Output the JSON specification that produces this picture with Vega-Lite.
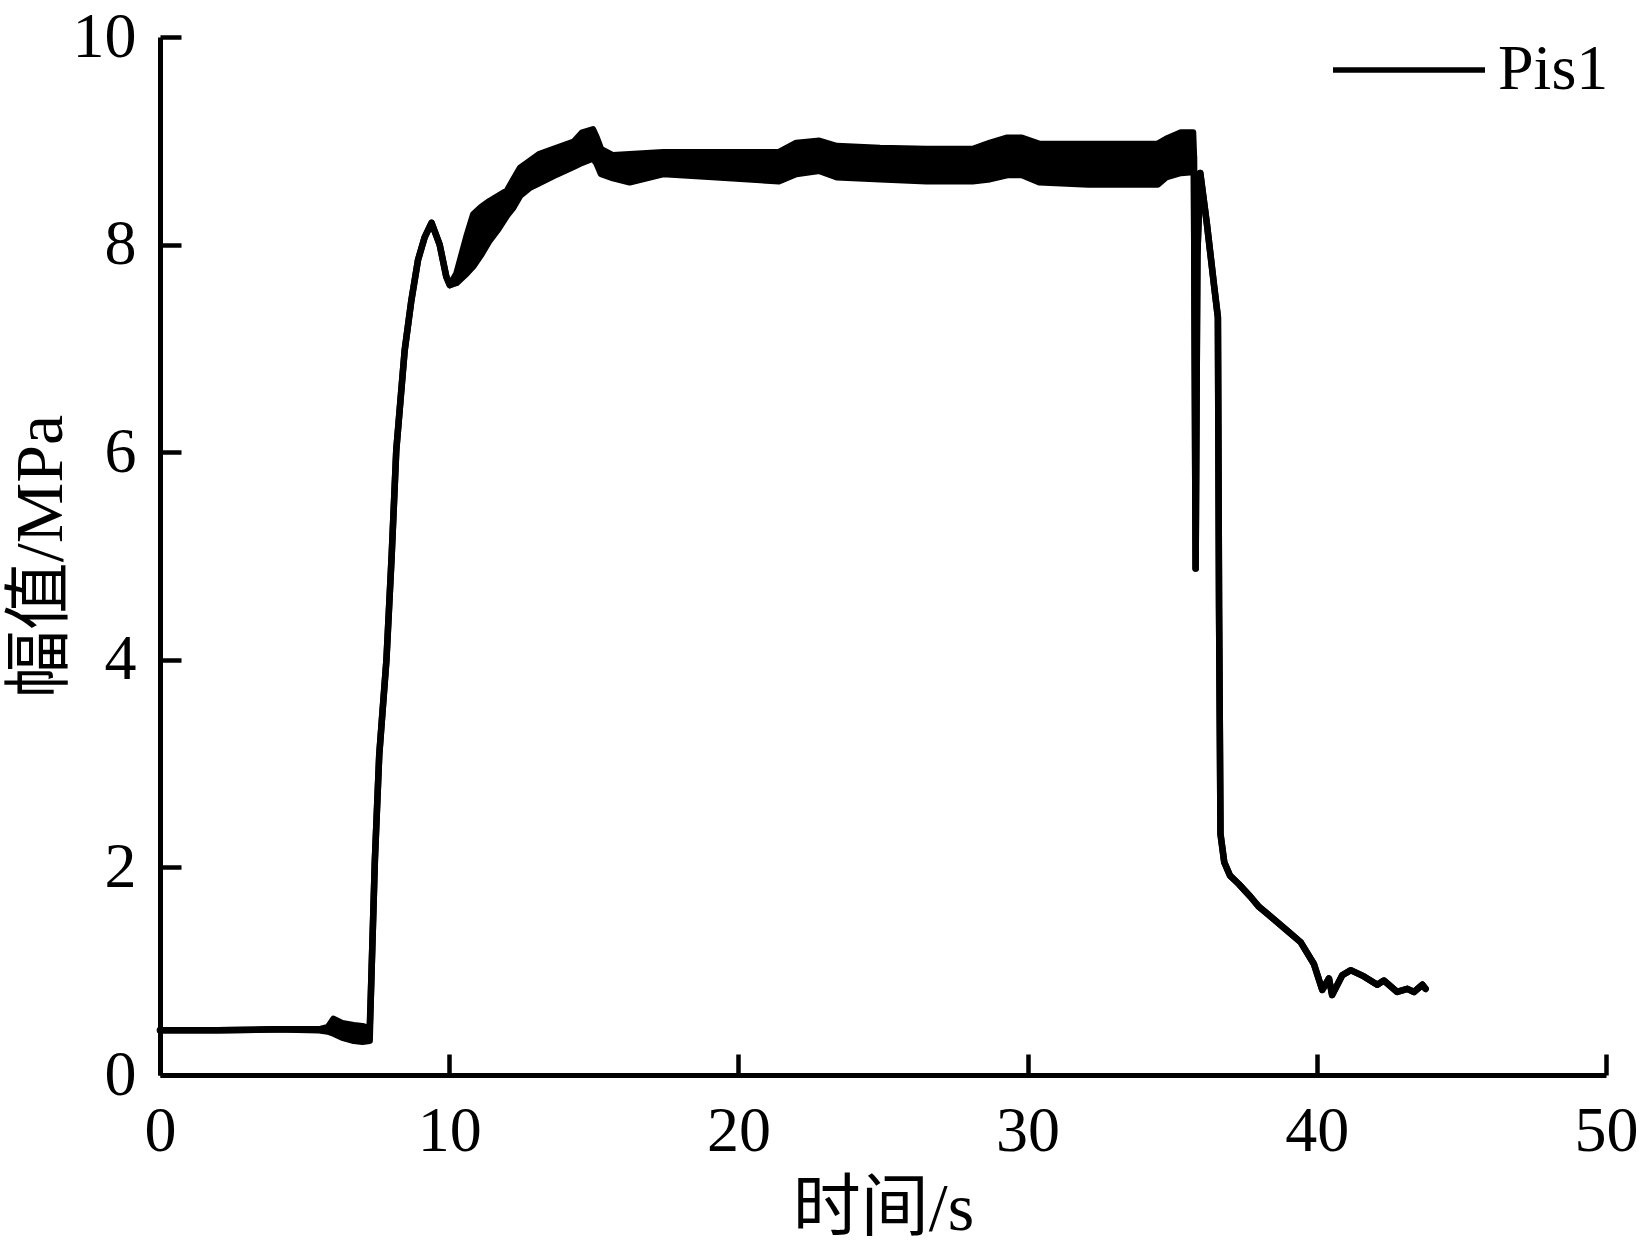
{
  "$schema": "https://vega.github.io/schema/vega-lite/v6.json",
  "autosize": "none",
  "padding": {"left": 160, "top": 37, "right": 37, "bottom": 169},
  "width": 1446,
  "height": 1038,
  "background": "white",
  "config": {
    "view": {"stroke": null},
    "font": "Liberation Serif",
    "axis": {
      "grid": false,
      "domainColor": "black",
      "domainWidth": 5,
      "tickColor": "black",
      "tickWidth": 4.5,
      "tickSize": -21,
      "labelFont": "Liberation Serif",
      "labelFontSize": 64,
      "labelColor": "black",
      "format": "d",
      "titleFont": "Liberation Serif, Noto Sans CJK SC",
      "titleFontSize": 68,
      "titleFontWeight": "normal",
      "titleColor": "black"
    }
  },
  "data": {
    "values": [
      {"t": 0, "lo": 0.43, "hi": 0.43},
      {"t": 2, "lo": 0.43, "hi": 0.43},
      {"t": 4, "lo": 0.44, "hi": 0.44},
      {"t": 5.5, "lo": 0.43, "hi": 0.44},
      {"t": 5.8, "lo": 0.42, "hi": 0.46},
      {"t": 6.0, "lo": 0.40, "hi": 0.54},
      {"t": 6.3, "lo": 0.36, "hi": 0.50},
      {"t": 6.7, "lo": 0.33, "hi": 0.48},
      {"t": 7.0, "lo": 0.32, "hi": 0.47},
      {"t": 7.25, "lo": 0.33, "hi": 0.45},
      {"t": 7.29, "lo": 0.76, "hi": 0.76},
      {"t": 7.43, "lo": 2.07, "hi": 2.07},
      {"t": 7.58, "lo": 3.08, "hi": 3.08},
      {"t": 7.83, "lo": 4.0, "hi": 4.0},
      {"t": 8.01, "lo": 5.0, "hi": 5.0},
      {"t": 8.17, "lo": 6.02, "hi": 6.02},
      {"t": 8.46, "lo": 6.98, "hi": 6.98},
      {"t": 8.69, "lo": 7.46, "hi": 7.46},
      {"t": 8.92, "lo": 7.85, "hi": 7.85},
      {"t": 9.15, "lo": 8.07, "hi": 8.07},
      {"t": 9.39, "lo": 8.21, "hi": 8.21},
      {"t": 9.67, "lo": 8.0, "hi": 8.0},
      {"t": 9.9, "lo": 7.69, "hi": 7.69},
      {"t": 10.02, "lo": 7.61, "hi": 7.61},
      {"t": 10.25, "lo": 7.63, "hi": 7.72},
      {"t": 10.6, "lo": 7.72, "hi": 8.08},
      {"t": 10.83, "lo": 7.79, "hi": 8.29},
      {"t": 11.1, "lo": 7.9, "hi": 8.36},
      {"t": 11.4, "lo": 8.04, "hi": 8.42},
      {"t": 11.7, "lo": 8.15, "hi": 8.47},
      {"t": 12.0, "lo": 8.28, "hi": 8.52},
      {"t": 12.2, "lo": 8.35, "hi": 8.62},
      {"t": 12.45, "lo": 8.47, "hi": 8.74},
      {"t": 12.8, "lo": 8.55, "hi": 8.81},
      {"t": 13.1, "lo": 8.59, "hi": 8.87},
      {"t": 13.6, "lo": 8.66, "hi": 8.92},
      {"t": 14.3, "lo": 8.75, "hi": 8.99},
      {"t": 14.6, "lo": 8.79, "hi": 9.08},
      {"t": 14.97, "lo": 8.83, "hi": 9.11},
      {"t": 15.1, "lo": 8.78, "hi": 9.03},
      {"t": 15.25, "lo": 8.68, "hi": 8.92},
      {"t": 15.66, "lo": 8.64, "hi": 8.86},
      {"t": 16.24, "lo": 8.6, "hi": 8.87},
      {"t": 17.4, "lo": 8.68, "hi": 8.89},
      {"t": 19.1, "lo": 8.65, "hi": 8.89},
      {"t": 21.4, "lo": 8.61, "hi": 8.89},
      {"t": 22.0, "lo": 8.68, "hi": 8.98},
      {"t": 22.8, "lo": 8.71, "hi": 9.0},
      {"t": 23.4, "lo": 8.65, "hi": 8.95},
      {"t": 24.9, "lo": 8.63, "hi": 8.93},
      {"t": 26.5, "lo": 8.61, "hi": 8.92},
      {"t": 28.1, "lo": 8.61, "hi": 8.92},
      {"t": 28.7, "lo": 8.63, "hi": 8.98},
      {"t": 29.3, "lo": 8.67, "hi": 9.03},
      {"t": 29.8, "lo": 8.67, "hi": 9.03},
      {"t": 30.4, "lo": 8.6, "hi": 8.97},
      {"t": 32.1, "lo": 8.58, "hi": 8.97},
      {"t": 34.5, "lo": 8.58, "hi": 8.97},
      {"t": 34.8, "lo": 8.65, "hi": 9.02},
      {"t": 35.3, "lo": 8.69, "hi": 9.08},
      {"t": 35.72, "lo": 8.7, "hi": 9.08},
      {"t": 35.75, "lo": 8.85, "hi": 8.85},
      {"t": 35.81, "lo": 4.88, "hi": 4.88},
      {"t": 35.87, "lo": 7.9, "hi": 7.9},
      {"t": 35.97, "lo": 8.69, "hi": 8.69},
      {"t": 36.2, "lo": 8.2, "hi": 8.2},
      {"t": 36.45, "lo": 7.6, "hi": 7.6},
      {"t": 36.58, "lo": 7.3, "hi": 7.3},
      {"t": 36.62, "lo": 4.5, "hi": 4.5},
      {"t": 36.67, "lo": 2.32, "hi": 2.32},
      {"t": 36.8, "lo": 2.05, "hi": 2.05},
      {"t": 37.0, "lo": 1.92, "hi": 1.92},
      {"t": 37.3, "lo": 1.84, "hi": 1.84},
      {"t": 37.7, "lo": 1.72, "hi": 1.72},
      {"t": 38.0, "lo": 1.62, "hi": 1.62},
      {"t": 38.3, "lo": 1.55, "hi": 1.55},
      {"t": 38.98, "lo": 1.39, "hi": 1.39},
      {"t": 39.44, "lo": 1.28, "hi": 1.28},
      {"t": 39.9, "lo": 1.07, "hi": 1.07},
      {"t": 40.19, "lo": 0.82, "hi": 0.82},
      {"t": 40.42, "lo": 0.93, "hi": 0.93},
      {"t": 40.53, "lo": 0.77, "hi": 0.77},
      {"t": 40.88, "lo": 0.96, "hi": 0.96},
      {"t": 41.17, "lo": 1.01, "hi": 1.01},
      {"t": 41.63, "lo": 0.95, "hi": 0.95},
      {"t": 42.09, "lo": 0.87, "hi": 0.87},
      {"t": 42.32, "lo": 0.91, "hi": 0.91},
      {"t": 42.78, "lo": 0.8, "hi": 0.8},
      {"t": 43.13, "lo": 0.83, "hi": 0.83},
      {"t": 43.36, "lo": 0.8, "hi": 0.8},
      {"t": 43.65, "lo": 0.87, "hi": 0.87},
      {"t": 43.76, "lo": 0.83, "hi": 0.83}
    ]
  },
  "encoding": {
    "x": {
      "field": "t",
      "type": "quantitative",
      "scale": {"domain": [0, 50], "nice": false, "zero": false},
      "axis": {"values": [0, 10, 20, 30, 40, 50], "title": "时间/s", "labelPadding": 45, "titlePadding": 12, "labelFlush": false}
    }
  },
  "layer": [
    {
      "mark": {"type": "area", "color": "black", "opacity": 1},
      "encoding": {
        "y": {
          "field": "lo",
          "type": "quantitative",
          "scale": {"domain": [0, 10], "nice": false},
          "axis": {"values": [0, 2, 4, 6, 8, 10], "title": "幅值/MPa", "labelPadding": 45, "titlePadding": -3, "labelFlush": false}
        },
        "y2": {"field": "hi"}
      }
    },
    {
      "mark": {"type": "line", "strokeWidth": 6.5, "strokeJoin": "round", "strokeCap": "round"},
      "encoding": {
        "y": {"field": "lo", "type": "quantitative"},
        "color": {
          "datum": "Pis1",
          "type": "nominal",
          "scale": {"range": ["black"]},
          "legend": {
            "title": null,
            "orient": "none",
            "legendX": 1170,
            "legendY": -46,
            "padding": 0,
            "symbolType": "stroke",
            "symbolSize": 23104,
            "symbolStrokeWidth": 5.5,
            "symbolStrokeColor": "black",
            "labelFont": "Liberation Serif",
            "labelFontSize": 64,
            "labelColor": "black",
            "labelOffset": 10,
            "labelLimit": 400
          }
        }
      }
    },
    {
      "mark": {"type": "line", "strokeWidth": 6.5, "strokeJoin": "round", "strokeCap": "round", "color": "black"},
      "encoding": {
        "y": {"field": "hi", "type": "quantitative"}
      }
    }
  ]
}
